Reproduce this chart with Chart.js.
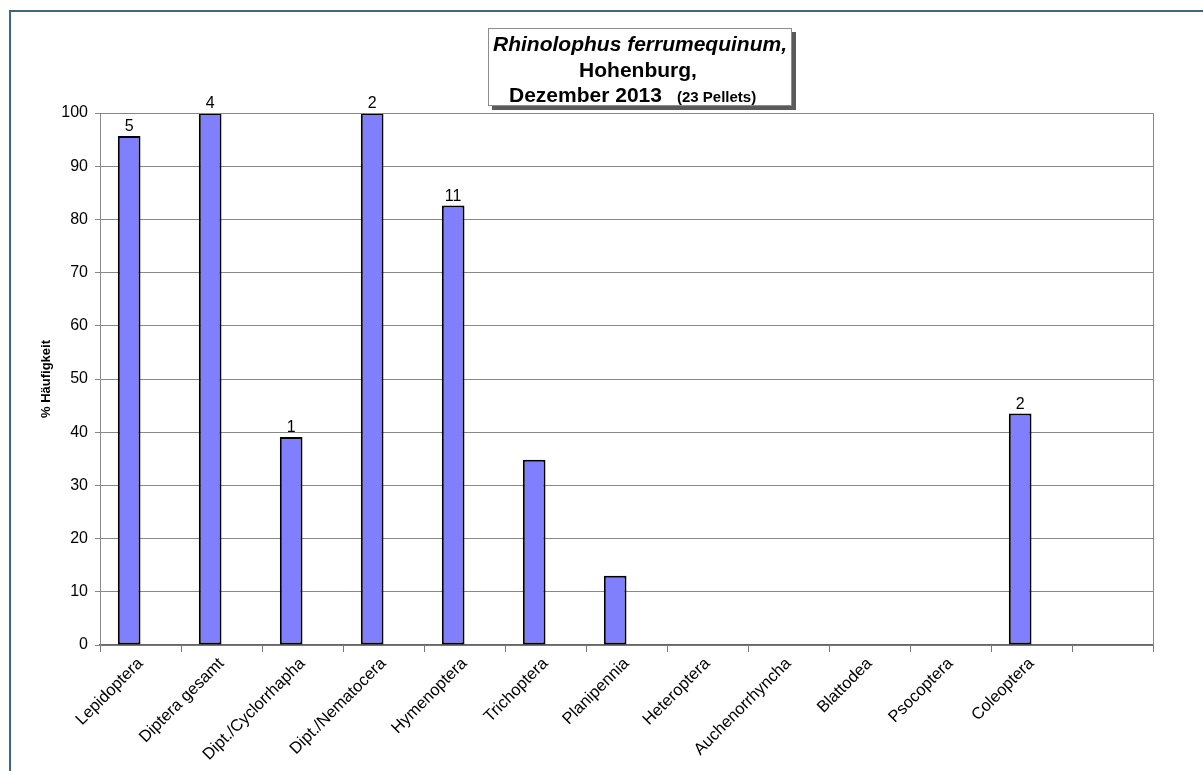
<!DOCTYPE html>
<html>
<head>
<meta charset="utf-8">
<script src="https://cdn.jsdelivr.net/npm/chart.js@4"></script>
<style>
  html, body { margin: 0; padding: 0; background: #fff; }
  canvas { display: block; }
</style>
</head>
<body>
<canvas id="chartBar" width="1203" height="771"></canvas>
<script>
const categories = [
  "Lepidoptera",
  "Diptera gesamt",
  "Dipt./Cyclorrhapha",
  "Dipt./Nematocera",
  "Hymenoptera",
  "Trichoptera",
  "Planipennia",
  "Heteroptera",
  "Auchenorrhyncha",
  "Blattodea",
  "Psocoptera",
  "Coleoptera",
  "",
];
// % of pellets containing the group
const percent = [95.7, 100, 39.1, 100, 82.6, 34.8, 13.0, 0, 0, 0, 0, 43.5, null];
// second series of the sheet is empty, it only reserves its slot
const emptySeries = [null, null, null, null, null, null, null, null, null, null, null, null, null];
// numbers printed above the bars
const counts = ["5", "4", "1", "2", "11", "", "", "", "", "", "", "2", ""];
const yTicks = [0, 10, 20, 30, 40, 50, 60, 70, 80, 90, 100];

const FONT = "'Liberation Sans', Arial, sans-serif";

const framePlugin = {
  id: "frame",
  beforeDraw(chart) {
    const ctx = chart.ctx;
    ctx.save();
    ctx.fillStyle = "#fff";
    ctx.fillRect(0, 0, chart.width, chart.height);
    ctx.fillStyle = "#3b6a7e";
    ctx.fillRect(9, 10, chart.width - 9, 2);
    ctx.fillRect(9, 10, 2, chart.height - 10);
    ctx.restore();
  },
  afterDraw(chart) {
    const ctx = chart.ctx;
    const area = chart.chartArea;
    ctx.save();

    // plot area outline (top and right)
    ctx.strokeStyle = "#888";
    ctx.lineWidth = 1;
    ctx.beginPath();
    ctx.moveTo(area.left, area.top + 0.5);
    ctx.lineTo(area.right + 0.5, area.top + 0.5);
    ctx.lineTo(area.right + 0.5, area.bottom);
    ctx.stroke();

    // counts above the bars
    const meta = chart.getDatasetMeta(0);
    ctx.fillStyle = "#000";
    ctx.font = "16px " + FONT;
    ctx.textAlign = "center";
    ctx.textBaseline = "bottom";
    meta.data.forEach((bar, i) => {
      if (!counts[i]) return;
      ctx.fillText(counts[i], bar.x, bar.y - 1);
    });

    // title box with shadow
    const bx = 488, by = 28, bw = 304, bh = 78;
    ctx.fillStyle = "#5a5a5a";
    ctx.fillRect(bx + 4, by + 4, bw, bh);
    ctx.fillStyle = "#fff";
    ctx.fillRect(bx, by, bw, bh);
    ctx.strokeStyle = "#8c8c8c";
    ctx.strokeRect(bx + 0.5, by + 0.5, bw - 1, bh - 1);

    ctx.fillStyle = "#000";
    ctx.textBaseline = "alphabetic";
    ctx.textAlign = "center";
    ctx.font = "italic bold 21px " + FONT;
    ctx.fillText("Rhinolophus ferrumequinum,", 640, 51);
    ctx.font = "bold 21px " + FONT;
    ctx.fillText("Hohenburg,", 638, 77);
    ctx.textAlign = "left";
    ctx.fillText("Dezember 2013", 509, 102);
    ctx.font = "bold 15px " + FONT;
    ctx.fillText("(23 Pellets)", 677, 102);
    ctx.restore();
  },
};

const data = {
  labels: categories,
  datasets: [
    {
      label: "% Häufigkeit",
      data: percent,
      backgroundColor: "#8080ff",
      borderColor: "#000",
      borderWidth: 2,
      borderSkipped: false,
      barPercentage: 1,
      categoryPercentage: 0.56,
    },
    {
      label: "",
      data: emptySeries,
      backgroundColor: "#993366",
      barPercentage: 1,
      categoryPercentage: 0.56,
    },
  ],
};

const configBarChart = {
  type: "bar",
  data,
  options: {
    responsive: false,
    animation: false,
    layout: { padding: { top: 113, right: 50, left: 0, bottom: 0 } },
    plugins: {
      legend: { display: false },
      tooltip: { enabled: false },
    },
    scales: {
      x: {
        afterFit(scale) {
          scale.height = 126;
        },
        grid: {
          offset: true,
          drawOnChartArea: false,
          tickLength: 7,
          color: "#777",
        },
        border: { color: "#666", width: 1.5 },
        ticks: {
          color: "#000",
          font: { family: FONT, size: 16.5 },
          minRotation: 45,
          maxRotation: 45,
          autoSkip: false,
          padding: 2,
        },
      },
      y: {
        min: 0,
        max: 100,
        afterFit(scale) {
          scale.width = 100;
        },
        afterBuildTicks(scale) {
          scale.ticks = yTicks.map((v) => ({ value: v }));
        },
        grid: { color: "#888", tickLength: 5 },
        border: { color: "#888" },
        ticks: {
          color: "#000",
          font: { family: FONT, size: 16 },
          padding: 7,
        },
        title: {
          display: true,
          text: "% Häufigkeit",
          color: "#000",
          font: { family: FONT, size: 13, weight: "bold" },
          padding: { top: 39, bottom: 0 },
        },
      },
    },
  },
  plugins: [framePlugin],
};

var chartBar = new Chart(document.getElementById("chartBar"), configBarChart);
</script>
</body>
</html>
